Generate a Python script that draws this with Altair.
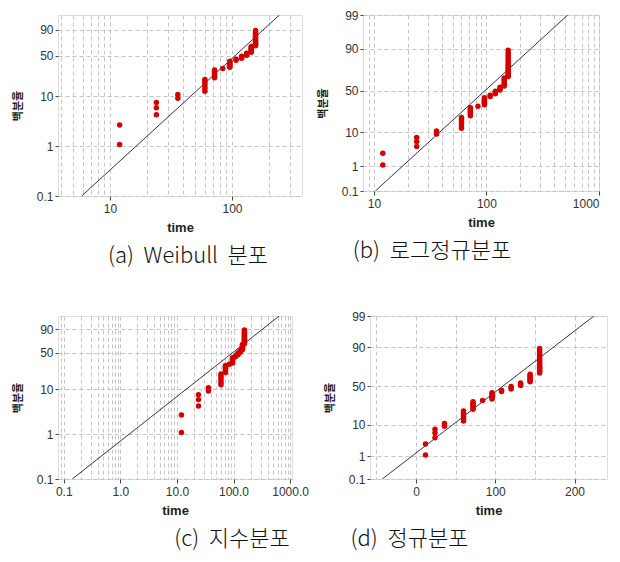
import math
from statistics import NormalDist
import altair as alt
import pandas as pd

# failure times (months) and plotted cumulative percent
fail_time = [12, 12,
             24, 24, 24,
             36, 36,
             60, 60, 60, 60, 60, 60,
             72, 72, 72, 72, 72, 72,
             84,
             96, 96, 96, 96, 96, 96,
             108, 108,
             120, 120, 120,
             132, 132, 132,
             144, 144, 144, 144, 144, 144, 144,
             156, 156, 156, 156, 156, 156, 156, 156, 156, 156, 156, 156, 156, 156, 156]
fail_pct = [1.1, 2.7,
            4.3, 5.9, 7.5,
            9.1, 10.7,
            12.3, 13.9, 15.5, 17.1, 18.8, 20.4,
            22.0, 23.6, 25.2, 26.8, 28.4, 30.0,
            31.6,
            33.2, 34.8, 36.4, 38.0, 39.6, 41.2,
            42.8, 44.4,
            46.0, 47.6, 49.2,
            50.8, 52.4, 54.0,
            55.6, 57.2, 58.8, 60.4, 62.0, 63.6, 65.2,
            66.8, 68.4, 70.0, 71.6, 73.2, 74.8, 76.4, 78.0, 79.6, 81.3, 82.9, 84.5, 86.1, 87.7, 89.3]

# fitted lines (endpoints)
fit_weibull_time = [5.86, 245]
fit_weibull_pct = [0.1, 99]
fit_lognorm_time = [10.3, 527]
fit_lognorm_pct = [0.1, 99]
fit_expon_time = [0.141, 641]
fit_expon_pct = [0.1, 99]
fit_normal_time = [-42.5, 224.5]
fit_normal_pct = [0.1, 99]

# axis ticks / labels
y_ticks_a = [0.1, 1, 10, 50, 90]
y_ticks_b = [0.1, 1, 10, 50, 90, 99]
y_range_pct = [0.1, 99]
x_grid_a = [4, 5, 6, 7, 8, 9, 10, 20, 30, 40, 50, 60, 70, 80, 90, 100, 200, 300]
x_grid_b = [9, 10, 20, 30, 40, 50, 60, 70, 80, 90, 100, 200, 300, 400, 500, 600, 700, 800, 900, 1000]
x_grid_c = [0.09, 0.1, 0.2, 0.3, 0.4, 0.5, 0.6, 0.7, 0.8, 0.9, 1, 2, 3, 4, 5, 6, 7, 8, 9,
            10, 20, 30, 40, 50, 60, 70, 80, 90, 100, 200, 300, 400, 500, 600, 700, 800, 900, 1000]
x_grid_d = [-50, 0, 50, 100, 150, 200]

NB = "\u00a0"
captions = [f"(a){NB}{NB}Weibull{NB}{NB}분포", f"(b){NB}{NB}로그정규분포",
            f"(c){NB}{NB}지수분포", f"(d){NB}{NB}정규분포"]

AX_FONT = "Liberation Sans"
CAP_FONT = "Noto Sans CJK KR"
GRID = "#c4c4c4"


def wtr(p):
    return math.log(-math.log(1 - p / 100.0))


def ntr(p):
    return NormalDist().inv_cdf(p / 100.0)


W_EXPR = "log(-log(1 - datum.pct/100))"
N_EXPR = "quantileNormal(datum.pct/100)"
W_LAB = "format(100*(1-exp(-exp(datum.value))), '.2~r')"
N_LAB = "format(100*cumulativeNormal(datum.value), '.2~r')"
DECADE = "abs(log(datum.value)/LN10 - round(log(datum.value)/LN10)) < 0.001"


def panel(kind, xdomain, xlog, xvals, xlabfmt, major_test, yticks, fit_t, fit_p,
          w, h, caption, cap_dx):
    tr = wtr if kind == "w" else ntr
    yexpr = W_EXPR if kind == "w" else N_EXPR
    ylab = W_LAB if kind == "w" else N_LAB
    ydom = [tr(y_range_pct[0]), tr(y_range_pct[1])]
    yvals = [tr(v) for v in yticks]

    if xlog:
        xscale = alt.Scale(type="log", domain=xdomain, nice=False)
    else:
        xscale = alt.Scale(type="linear", domain=xdomain, nice=False, zero=False)

    xaxis = alt.Axis(
        values=xvals, title="time", grid=True, gridDash=[4, 3], gridColor=GRID,
        domain=False, tickSize=4, tickColor="#444",
        tickOpacity={"condition": {"test": major_test, "value": 1}, "value": 0},
        labelExpr=f"({major_test}) ? format(datum.value, '{xlabfmt}') : ''",
        labelOverlap=False, labelFont=AX_FONT, labelFontSize=12, labelColor="#333",
        labelPadding=3, titleFont=AX_FONT, titleFontSize=13, titleFontWeight="bold",
        titleColor="#222", titleY=31, titleBaseline="middle",
    )
    yaxis = alt.Axis(
        values=yvals, title="백분율", grid=True, gridDash=[4, 3], gridColor=GRID,
        domain=False, tickSize=3, tickColor="#444", labelExpr=ylab, labelOverlap=False,
        labelFont=AX_FONT, labelFontSize=12, labelColor="#333", labelPadding=2,
        titleFont=CAP_FONT, titleFontSize=11, titleFontWeight="bold", titleColor="#222",
        titleX=-40, titleBaseline="middle",
    )
    yscale = alt.Scale(domain=ydom, nice=False, zero=False)

    pts = pd.DataFrame({"time": fail_time, "pct": fail_pct})
    fit = pd.DataFrame({"time": fit_t, "pct": fit_p})

    line = alt.Chart(fit).transform_calculate(yt=yexpr).mark_line(
        color="#33334d", strokeWidth=1, clip=True
    ).encode(
        x=alt.X("time:Q", scale=xscale, axis=xaxis),
        y=alt.Y("yt:Q", scale=yscale, axis=yaxis),
    )
    dots = alt.Chart(pts).transform_calculate(yt=yexpr).mark_circle(
        size=30, color="#d40000", opacity=1
    ).encode(
        x=alt.X("time:Q", scale=xscale, axis=xaxis),
        y=alt.Y("yt:Q", scale=yscale, axis=yaxis),
    )
    return alt.layer(line, dots).properties(
        width=w, height=h,
        title=alt.TitleParams(
            caption, orient="bottom", anchor="middle", frame="group", dx=cap_dx,
            offset=12, fontSize=22, fontWeight=300, font=CAP_FONT, color="#111",
        ),
    )


pa = panel("w", [3.75, 375], True, x_grid_a, "~g", DECADE, y_ticks_a,
           fit_weibull_time, fit_weibull_pct, 244, 181, captions[0], 8)
pb = panel("n", [8, 1000], True, x_grid_b, "~g", DECADE, y_ticks_b,
           fit_lognorm_time, fit_lognorm_pct, 236, 176, captions[1], -49)
pc = panel("w", [0.079, 1080], True, x_grid_c, ".1f", DECADE, y_ticks_a,
           fit_expon_time, fit_expon_pct, 234, 163, captions[2], 57)
pd_ = panel("n", [-58, 241], False, x_grid_d, "d", "datum.value % 100 == 0", y_ticks_b,
            fit_normal_time, fit_normal_pct, 237, 163, captions[3], -79)

top = alt.hconcat(pa, pb, spacing=13)
bottom = alt.hconcat(pc, pd_, spacing=14)
chart = alt.vconcat(top, bottom, spacing=41).properties(
    padding={"left": 3, "top": 0, "right": 0, "bottom": 0}
).configure_view(stroke="#555555", strokeWidth=1.5).configure(background="white")

chart.save("out.html", embed_options={"renderer": "svg", "actions": False})
